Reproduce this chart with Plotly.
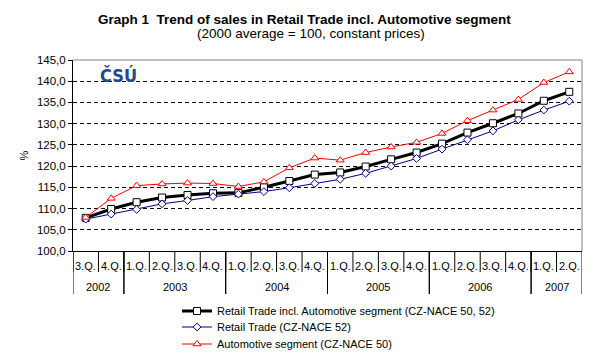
import plotly.graph_objects as go

# quarters 3.Q. 2002 .. 2.Q. 2007
quarters = ["3.Q.", "4.Q.",
            "1.Q.", "2.Q.", "3.Q.", "4.Q.",
            "1.Q.", "2.Q.", "3.Q.", "4.Q.",
            "1.Q.", "2.Q.", "3.Q.", "4.Q.",
            "1.Q.", "2.Q.", "3.Q.", "4.Q.",
            "1.Q.", "2.Q."]
years = ["2002", "2003", "2004", "2005", "2006", "2007"]
year_counts = [2, 4, 4, 4, 4, 2]

retail_auto = [107.8, 109.9, 111.5, 112.6, 113.2, 113.6, 113.7, 115.0, 116.5, 118.0,
               118.5, 119.9, 121.6, 123.2, 125.3, 127.9, 130.1, 132.4, 135.4, 137.5]
retail = [107.5, 108.7, 109.8, 111.1, 111.9, 112.8, 113.4, 114.0, 114.9, 115.9,
          116.9, 118.3, 120.0, 121.8, 124.0, 126.2, 128.3, 130.9, 133.2, 135.3]
automotive = [107.9, 112.4, 115.4, 115.8, 116.0, 115.9, 115.2, 116.3, 119.6, 121.9,
              121.4, 123.2, 124.5, 125.6, 127.7, 130.7, 133.2, 135.7, 139.7, 142.2]

y_ticks = [100, 105, 110, 115, 120, 125, 130, 135, 140, 145]
y_ticktext = [f"{v:.1f}".replace(".", ",") for v in y_ticks]

FONT = "Liberation Sans, Arial, sans-serif"
OFF = 8  # default body margin of the html page
W, H = 604 - OFF, 359 - OFF
L, R, T, B = 73 - OFF, 22, 60 - OFF, 108
plot_w = W - L - R
plot_h = H - T - B


# helpers: screen pixel -> paper fraction
def px_x(px):
    return (px - OFF - L) / plot_w


def px_y(py):
    return (H - B - (py - OFF)) / plot_h


x = list(range(len(quarters)))

fig = go.Figure()
fig.add_trace(go.Scatter(
    x=x, y=retail_auto, mode="lines+markers", legend="legend",
    name="Retail Trade incl. Automotive segment (CZ-NACE 50, 52)",
    line=dict(color="black", width=3),
    marker=dict(symbol="square", size=7, color="white", line=dict(color="black", width=1)),
))
fig.add_trace(go.Scatter(
    x=x, y=retail, mode="lines+markers", legend="legend2",
    name="Retail Trade (CZ-NACE 52)",
    line=dict(color="#000080", width=1),
    marker=dict(symbol="diamond", size=6, color="white", line=dict(color="#000080", width=1)),
))
fig.add_trace(go.Scatter(
    x=x, y=automotive, mode="lines+markers", legend="legend3",
    name="Automotive segment (CZ-NACE 50)",
    line=dict(color="#ff0000", width=1),
    marker=dict(symbol="triangle-up", size=7, color="white", line=dict(color="#ff0000", width=1)),
))

shapes = []
annotations = []

# quarter labels and dividers
for i, q in enumerate(quarters):
    annotations.append(dict(x=i, y=px_y(266), xref="x", yref="paper", text=q,
                            showarrow=False, font=dict(size=11, color="black"),
                            xanchor="center", yanchor="middle"))
    shapes.append(dict(type="line", xref="x", yref="paper", x0=i - 0.5, x1=i - 0.5,
                       y0=0, y1=px_y(272), line=dict(color="black", width=1)))

# year labels and dividers
start = 0
for yr, n in zip(years, year_counts):
    annotations.append(dict(x=start + (n - 1) / 2, y=px_y(287), xref="x", yref="paper",
                            text=yr, showarrow=False, font=dict(size=11, color="black"),
                            xanchor="center", yanchor="middle"))
    for b in (start - 0.5, start + n - 0.5):
        shapes.append(dict(type="line", xref="x", yref="paper", x0=b, x1=b,
                           y0=0, y1=px_y(294), line=dict(color="black", width=1)))
    start += n

# gray top and right border
shapes.append(dict(type="line", xref="paper", yref="paper", x0=0, x1=1, y0=1, y1=1,
                   line=dict(color="#808080", width=1)))
shapes.append(dict(type="line", xref="paper", yref="paper", x0=1, x1=1, y0=0, y1=1,
                   line=dict(color="#808080", width=1)))

# titles
annotations.append(dict(x=px_x(304), y=px_y(19), xref="paper", yref="paper",
                        text="<b>Graph 1  Trend of sales in Retail Trade incl. Automotive segment</b>",
                        showarrow=False, font=dict(size=13.5, color="black"),
                        xanchor="center", yanchor="middle"))
annotations.append(dict(x=px_x(311), y=px_y(34), xref="paper", yref="paper",
                        text="(2000 average = 100, constant prices)",
                        showarrow=False, font=dict(size=13.5, color="black"),
                        xanchor="center", yanchor="middle"))
# logo
annotations.append(dict(x=px_x(98), y=px_y(75), xref="paper", yref="paper",
                        text="<b>ČSÚ</b>", showarrow=False,
                        font=dict(size=18, color="#26468f",
                                  family="DejaVu Sans Condensed, DejaVu Sans, sans-serif"),
                        xanchor="left", yanchor="middle"))

legend_style = dict(x=px_x(177), xanchor="left", yanchor="middle",
                    bgcolor="rgba(0,0,0,0)", font=dict(size=11, color="black"))

fig.update_layout(
    width=W, height=H,
    margin=dict(l=L, r=R, t=T, b=B, autoexpand=False),
    paper_bgcolor="white", plot_bgcolor="white",
    font=dict(family=FONT, size=11, color="black"),
    showlegend=True,
    legend=dict(y=px_y(311), **legend_style),
    legend2=dict(y=px_y(327), **legend_style),
    legend3=dict(y=px_y(344), **legend_style),
    shapes=shapes,
    annotations=annotations,
)
fig.update_xaxes(range=[-0.5, len(quarters) - 0.5], showticklabels=False, showgrid=False,
                 zeroline=False, showline=True, linecolor="black", linewidth=1, ticks="")
fig.update_yaxes(range=[100, 145], tickvals=y_ticks, ticktext=y_ticktext,
                 showgrid=True, gridcolor="black", gridwidth=1, griddash="4px,3px",
                 zeroline=False, showline=True, linecolor="black", linewidth=1,
                 ticks="outside", ticklen=4, tickcolor="black", tickfont=dict(size=11.5),
                 title=dict(text="%", standoff=6, font=dict(size=11)))

fig.write_html("out.html")
